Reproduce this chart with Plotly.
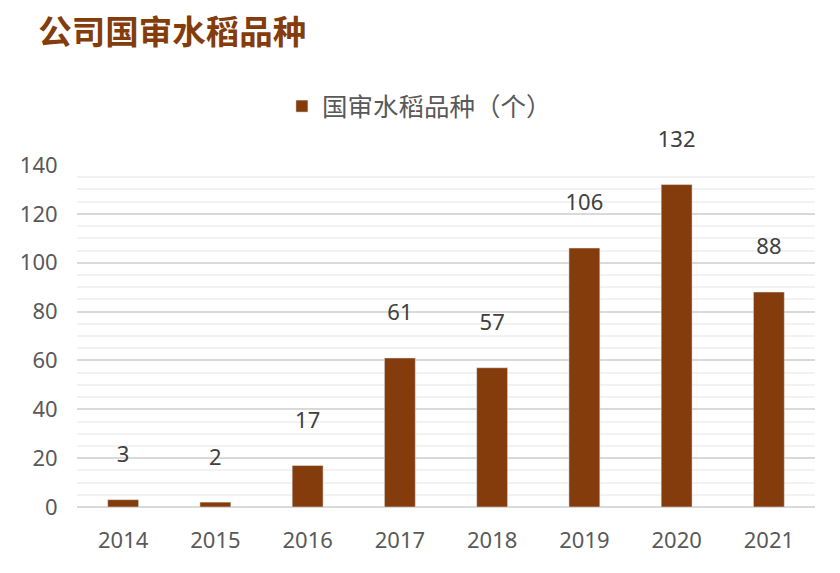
"""Bar chart of national-approved rice varieties per year"""

import plotly.graph_objects as go

# Data
years = ["2014", "2015", "2016", "2017", "2018", "2019", "2020", "2021"]
counts = [3, 2, 17, 61, 57, 106, 132, 88]
series_name = "国审水稻品种（个）"
chart_title = "公司国审水稻品种"

bar_color = "#843C0C"
text_gray = "#595959"
cjk_font = "Noto Sans CJK SC"
num_font = "Noto Sans"

fig = go.Figure()
fig.add_trace(go.Bar(
    x=years,
    y=counts,
    name=series_name,
    marker_color=bar_color,
    # empty second line lifts each value label clear of its bar
    text=[str(v) + "<br> " for v in counts],
    textposition="outside",
    constraintext="none",
    textfont=dict(family=num_font, size=22, color="#404040"),
    cliponaxis=False,
))

# the page adds an 8px body margin, so margins are shifted by that
fig.update_layout(
    width=840,
    height=573,
    margin=dict(l=66, r=33, t=157, b=74),
    plot_bgcolor="white",
    paper_bgcolor="white",
    showlegend=True,
    bargap=0.665,
    title=dict(
        text="<b>" + chart_title + "</b>",
        x=0.036, xanchor="left", y=0.9585, yanchor="middle",
        font=dict(family=cjk_font, size=33.5, color=bar_color),
    ),
    legend=dict(
        orientation="h", x=0.464, xanchor="center",
        y=1.171, yanchor="middle",
        font=dict(family=cjk_font, size=25.5, color=text_gray),
    ),
)

fig.update_xaxes(
    type="category",
    showgrid=False,
    ticks="outside",
    ticklen=14,
    tickcolor="rgba(0,0,0,0)",
    tickfont=dict(family=num_font, size=22, color=text_gray),
)
fig.update_yaxes(
    range=[0, 140],
    dtick=20,
    gridcolor="#d9d9d9",
    gridwidth=2,
    zerolinecolor="#d9d9d9",
    zerolinewidth=2,
    minor=dict(dtick=5, showgrid=True, gridcolor="#f2f2f2", gridwidth=2),
    ticks="outside",
    ticklen=14,
    tickcolor="rgba(0,0,0,0)",
    tickfont=dict(family=num_font, size=22, color=text_gray),
)

fig.write_html("out.html")
